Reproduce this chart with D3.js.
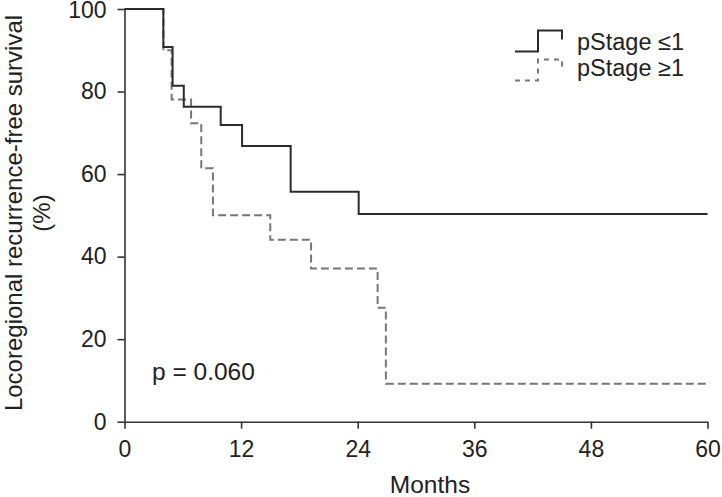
<!DOCTYPE html>
<html>
<head>
<meta charset="utf-8">
<script src="https://cdn.jsdelivr.net/npm/d3@7"></script>
<style>
  html, body { margin: 0; padding: 0; background: #fff; }
  svg { display: block; }
  text { font-family: "Liberation Sans", Arial, sans-serif; fill: #222; }
</style>
</head>
<body>
<svg id="chart" width="722" height="497"></svg>
<script>
// ---- data ----
const xTicks = [0, 12, 24, 36, 48, 60];
const yTicks = [0, 20, 40, 60, 80, 100];
const seriesNames = ["pStage \u22641", "pStage \u22651"];
const stage1Months = [0, 4.0, 4.95, 6.1, 9.9, 12.1, 17.1, 24.1, 60];
const stage1Survival = [100, 90.8, 81.4, 76.3, 71.9, 66.8, 55.7, 50.3, 50.3];
const stage2Months = [0, 4.0, 4.85, 6.85, 7.9, 9.1, 15.0, 19.2, 26.05, 26.9, 60];
const stage2Survival = [100, 90.0, 78.1, 72.3, 61.4, 50.0, 44.1, 37.1, 27.6, 9.2, 9.2];
const pValueText = "p = 0.060";

const svg = d3.select("#chart");
const x = d3.scaleLinear().domain([0, 60]).range([124.5, 707.5]);
const y = d3.scaleLinear().domain([0, 100]).range([421.7, 9]);

const axisColor = "#333";
const tickFs = 23;
const titleFs = 24.5;

// x axis
const gx = svg.append("g").attr("transform", `translate(0,${y(0)})`)
  .call(d3.axisBottom(x).tickValues(xTicks).tickSize(7).tickPadding(12).tickSizeOuter(0));
// y axis
const gy = svg.append("g").attr("transform", `translate(${x(0)},0)`)
  .call(d3.axisLeft(y).tickValues(yTicks).tickSize(7).tickPadding(11).tickSizeOuter(0));
[gx, gy].forEach(g => {
  g.attr("font-size", tickFs).attr("font-family", "Liberation Sans, Arial, sans-serif");
  g.select(".domain").attr("stroke", axisColor).attr("stroke-width", 1.6);
  g.selectAll(".tick line").attr("stroke", axisColor).attr("stroke-width", 1.6);
  g.selectAll(".tick text").attr("font-size", tickFs).attr("fill", "#222");
});
gy.selectAll(".tick text").filter(d => d === 100).attr("y", 1.5);

// axis titles
svg.append("text").attr("x", 430).attr("y", 493)
  .attr("text-anchor", "middle").attr("font-size", titleFs).text("Months");
const yt = svg.append("g").attr("transform", "translate(22,213) rotate(-90)");
yt.append("text").attr("text-anchor", "middle").attr("font-size", 24).attr("y", 0)
  .text("Locoregional recurrence-free survival");
yt.append("text").attr("text-anchor", "middle").attr("font-size", 24).attr("y", 28)
  .text("(%)");

// curves
const line = d3.line().curve(d3.curveStepAfter).x(d => x(d[0])).y(d => y(d[1]));
const s1 = stage1Months.map((m, i) => [m, stage1Survival[i]]);
const s2 = stage2Months.map((m, i) => [m, stage2Survival[i]]);

svg.append("path").datum(s2).attr("d", line).attr("fill", "none")
  .attr("stroke", "#777").attr("stroke-width", 2).attr("stroke-dasharray", "8,4");
svg.append("path").datum(s1).attr("d", line).attr("fill", "none")
  .attr("stroke", "#2b2b2b").attr("stroke-width", 2);

// legend
function legendPath(x0, yBase) {
  return `M${x0},${yBase} H${x0 + 23} V${yBase - 21} H${x0 + 47} V${yBase - 12}`;
}
svg.append("path").attr("d", legendPath(515, 51.5)).attr("fill", "none")
  .attr("stroke", "#2b2b2b").attr("stroke-width", 2);
svg.append("text").attr("x", 577).attr("y", 50).attr("font-size", 23.5).text(seriesNames[0]);
svg.append("path").attr("d", legendPath(515, 80.5)).attr("fill", "none")
  .attr("stroke", "#777").attr("stroke-width", 2).attr("stroke-dasharray", "5,5");
svg.append("text").attr("x", 577).attr("y", 76).attr("font-size", 23.5).text(seriesNames[1]);

// p value
svg.append("text").attr("x", 152).attr("y", 380).attr("font-size", titleFs).text(pValueText);
</script>
</body>
</html>
